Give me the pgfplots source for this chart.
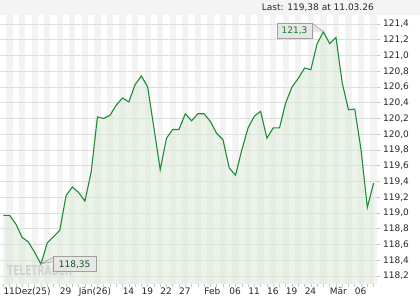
\documentclass[border=0pt]{standalone}
\usepackage{fontspec}
\setmainfont{DejaVu Sans}
\usepackage{graphicx}
\usepackage{pgfplots}
\usepackage{pgfplotstable}
\pgfplotsset{compat=1.18}
\definecolor{lineg}{RGB}{30,140,55}
\definecolor{txtg}{RGB}{25,125,45}
\definecolor{fillg}{RGB}{220,234,216}
\definecolor{stripe}{RGB}{243,243,243}
\definecolor{gridc}{RGB}{222,222,222}
\definecolor{band}{RGB}{244,244,244}
\definecolor{boxf}{RGB}{230,230,230}
\definecolor{boxd}{RGB}{160,160,160}

\pgfplotstableread{
x y
0 118.97
1 118.97
2 118.86
3 118.69
4 118.63
5 118.50
6 118.35
7 118.62
8 118.70
9 118.78
10 119.22
11 119.33
12 119.26
13 119.15
14 119.52
15 120.22
16 120.20
17 120.24
18 120.37
19 120.46
20 120.41
21 120.63
22 120.74
23 120.60
24 120.08
25 119.55
26 119.95
27 120.06
28 120.06
29 120.26
30 120.17
31 120.26
32 120.26
33 120.16
34 120.01
35 119.93
36 119.57
37 119.48
38 119.80
39 120.08
40 120.23
41 120.29
42 119.95
43 120.08
44 120.08
45 120.40
46 120.60
47 120.71
48 120.84
49 120.82
50 121.15
51 121.30
52 121.15
53 121.23
54 120.65
55 120.31
56 120.32
57 119.80
58 119.07
59 119.38
}\data

\begin{document}
\begin{tikzpicture}[font=\fontsize{9}{11}\selectfont]
\useasboundingbox (0,0) rectangle (420pt,300pt);
\fill[band] (0,285pt) rectangle (420pt,300pt);
\node[anchor=east, inner sep=0pt, text=black!85] at (374pt,292.5pt) {Last: 119,38 at 11.03.26};
\begin{axis}[
  at={(0pt,16pt)}, anchor=south west,
  scale only axis, width=377pt, height=269pt,
  xmin=-0.526, xmax=59.54, ymin=118.098, ymax=121.514,
  axis line style={draw=none},
  xtick pos=bottom, ytick pos=right,
  tick align=outside, major tick length=3pt,
  tick style={gray!45, line width=0.6pt},
  xtick={0,...,59},
  xticklabels={11Dez(25),,,,,,,,,29,,,Jän(26),,,,,,,14,,,19,,,22,,,27,,,,Feb,,,,06,,,11,,,16,,,19,,,24,,,,Mär,,,,06,,,},
  xticklabel style={anchor=north west, inner sep=0pt, yshift=-0.5pt, text=black!85},
  ytick={118.2,118.4,118.6,118.8,119,119.2,119.4,119.6,119.8,120,120.2,120.4,120.6,120.8,121,121.2,121.4},
  yticklabel style={anchor=west, inner sep=0pt, xshift=3pt, text=black!85,
    /pgf/number format/.cd, fixed, fixed zerofill, precision=1, use comma},
  /pgf/number format/assume math mode=true,
]
\pgfplotsinvokeforeach{1,3,...,59}{
  \fill[stripe] ([xshift=-3.138pt]axis cs:#1,118.098) rectangle ([xshift=3.138pt]axis cs:#1,121.514);
}
\pgfplotsinvokeforeach{118.2,118.4,118.6,118.8,119,119.2,119.4,119.6,119.8,120,120.2,120.4,120.6,120.8,121,121.2,121.4}{
  \draw[gridc, line width=0.8pt] (axis cs:-0.526,#1) -- (axis cs:59.54,#1);
}
\addplot[fill=fillg, fill opacity=0.55, draw=none] table[x=x,y=y]{\data} \closedcycle;
\addplot[lineg, line width=1.1pt, mark=none] table[x=x,y=y]{\data};
\end{axis}
% watermark
\node[anchor=west, inner sep=0pt, text=gray!35] at (7pt,29.5pt) {\resizebox{65pt}{10pt}{\bfseries TELETRADER}};
% annotation 121,3
\fill[boxf] (312pt,277pt) -- (323.4pt,268.3pt) -- (312pt,268pt) -- cycle;
\draw[boxd, line width=0.6pt] (312pt,277pt) -- (323.4pt,268.3pt);
\node[draw=boxd, fill=boxf, text=txtg, minimum width=35pt, minimum height=15pt, inner sep=0pt, line width=0.6pt] at (294.5pt,269.5pt) {121,3};
% annotation 118,35
\fill[boxf] (53.3pt,42.7pt) -- (41pt,36.3pt) -- (53.3pt,38.3pt) -- cycle;
\draw[boxd, line width=0.6pt] (53.3pt,42.7pt) -- (41pt,36.3pt) -- (53.3pt,38.3pt);
\node[draw=boxd, fill=boxf, fill opacity=0.85, text opacity=1, text=txtg!70!black, minimum width=43pt, minimum height=15pt, inner sep=0pt, line width=0.6pt] at (74.6pt,35.8pt) {118,35};
\end{tikzpicture}
\end{document}
